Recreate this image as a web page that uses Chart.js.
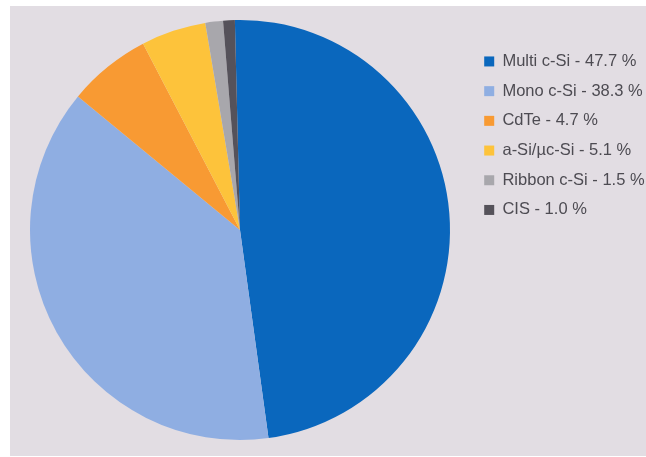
<!DOCTYPE html>
<html>
<head>
<meta charset="utf-8">
<script src="https://cdn.jsdelivr.net/npm/chart.js@4.4.1/dist/chart.umd.min.js"></script>
<style>
  html, body { margin: 0; padding: 0; background: #ffffff; }
  #wrap { position: relative; width: 646px; height: 457px; overflow: hidden; }
  #panel { position: absolute; left: 10px; top: 6px; width: 636px; height: 450px; background: #e2dde3; }
  #c { position: absolute; left: 0; top: 0; }
</style>
</head>
<body>
<div id="wrap">
  <div id="panel"></div>
  <canvas id="c" width="646" height="457"></canvas>
</div>
<script>
// Legend labels (as printed in the reference)
const labels = [
  "Multi c-Si - 47.7 %",
  "Mono c-Si - 38.3 %",
  "CdTe - 4.7 %",
  "a-Si/\u00b5c-Si - 5.1 %",
  "Ribbon c-Si - 1.5 %",
  "CIS - 1.0 %"
];
const shares = [48.3, 38.2, 6.4, 5.0, 1.36, 0.9];
const colors = ["#0a67bd", "#8faee2", "#f89a33", "#fdc33b", "#a8a7ac", "#55525a"];

new Chart(document.getElementById("c"), {
  type: "pie",
  data: {
    labels: labels,
    datasets: [{
      data: shares,
      backgroundColor: colors,
      borderWidth: 0,
      radius: 210,
      clip: false
    }]
  },
  options: {
    responsive: false,
    animation: false,
    rotation: -1.4,
    layout: { padding: { left: 9, right: 0, top: 40, bottom: 37 } },
    plugins: {
      tooltip: { enabled: false },
      legend: {
        position: "right",
        align: "start",
        maxWidth: 175,
        labels: {
          boxWidth: 10,
          boxHeight: 10,
          padding: 13.2,
          color: "#4d4b52",
          font: { family: "'Liberation Sans', Arial, sans-serif", size: 16.5 }
        }
      }
    }
  }
});
</script>
</body>
</html>
